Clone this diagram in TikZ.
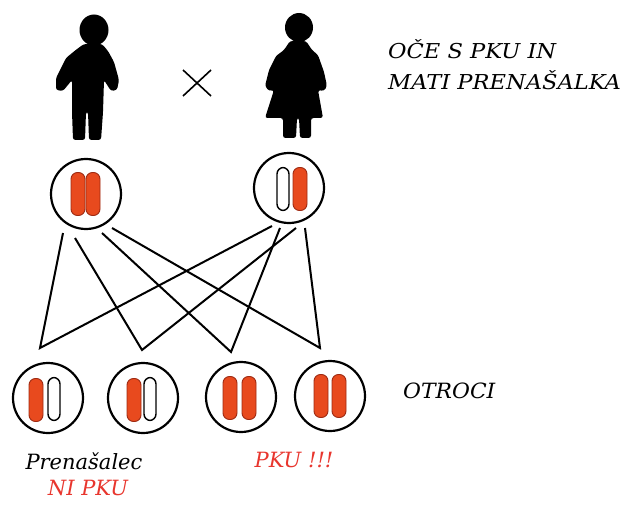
\documentclass[tikz,border=0pt]{standalone}
\usepackage{fontspec}
\setmainfont{DejaVu Serif}
\usetikzlibrary{calc}
\definecolor{chromred}{HTML}{E84A1E}
\definecolor{chromedge}{HTML}{9E2A12}
\definecolor{labelred}{HTML}{E8362E}
\begin{document}
\begin{tikzpicture}[x=1pt,y=-1pt,
  cell/.style={circle,draw,line width=2.2pt,minimum size=70pt,inner sep=0pt},
  chromfull/.style={rectangle,rounded corners=6.5pt,fill=chromred,draw=chromedge,line width=0.9pt,minimum width=14pt,minimum height=43pt,inner sep=0pt},
  chromempty/.style={rectangle,rounded corners=6.5pt,fill=white,draw=black,line width=1.4pt,minimum width=12pt,minimum height=43pt,inner sep=0pt},
  link/.style={line width=2pt,line join=miter},
  caption/.style={font=\itshape\fontsize{21}{21}\selectfont,anchor=west,inner sep=0pt},
  headline/.style={font=\itshape\fontsize{20.5}{20.5}\selectfont,anchor=west,inner sep=0pt},
  silhouette/.style={fill=black,rounded corners=2.5pt}]
\useasboundingbox (0,0) rectangle (623,505);

% father
\fill[black] (94,30) ellipse [x radius=14.5, y radius=15.5];
\fill[silhouette] (84,44) -- (102,44) -- (108,51) -- (114,62) -- (119,80) -- (117,90) -- (111,91)
  -- (104,80) -- (103,112) -- (101,140) -- (89,140) -- (88,112) -- (86,112) -- (85,140)
  -- (73,140) -- (72,112) -- (72,80) -- (63,91) -- (56,90) -- (56,78) -- (66,58) -- (77,49) -- cycle;

% cross sign
\draw[line width=1.6pt] (183,70) -- (211,96) (211,70) -- (183,96);

% mother
\fill[black] (299,27.5) ellipse [x radius=14, y radius=14.5];
\fill[silhouette] (290,41) -- (306,41) -- (312,50) -- (318,55) -- (324,72) -- (327,86) -- (324,91)
  -- (318,90) -- (323,118) -- (311,118) -- (311,138) -- (300,138) -- (299,118) -- (297,118)
  -- (296,138) -- (283,138) -- (283,118) -- (265,118) -- (274,90) -- (269,91) -- (265,86)
  -- (269,70) -- (276,56) -- (284,50) -- cycle;

% parent cells
\node[cell] (P1) at (86,194) {};
\node[cell] (P2) at (289,188) {};
\node[chromfull] (P1a) at ($(P1)+(-8,0)$) {};
\node[chromfull] (P1b) at ($(P1)+(7,0)$) {};
\node[chromempty] (P2a) at ($(P2)+(-6,1)$) {};
\node[chromfull] (P2b) at ($(P2)+(11,1)$) {};

% children cells
\node[cell] (C1) at (48,398) {};
\node[cell] (C2) at (143,398) {};
\node[cell] (C3) at (241,397) {};
\node[cell] (C4) at (330,396) {};
\node[chromfull] (C1a) at ($(C1)+(-12,2)$) {};
\node[chromempty] (C1b) at ($(C1)+(6,1)$) {};
\node[chromfull] (C2a) at ($(C2)+(-9,2)$) {};
\node[chromempty] (C2b) at ($(C2)+(7,1)$) {};
\node[chromfull] (C3a) at ($(C3)+(-11,1)$) {};
\node[chromfull] (C3b) at ($(C3)+(8,1)$) {};
\node[chromfull] (C4a) at ($(C4)+(-9,0)$) {};
\node[chromfull] (C4b) at ($(C4)+(9,0)$) {};

% meeting points above the children
\coordinate (A1) at (40,348);
\coordinate (A2) at (142,350);
\coordinate (A3) at (231,352);
\coordinate (A4) at (320,348);

% inheritance lines
\draw[link] ($(P1)+(-23,39)$) -- (A1) -- ($(P2)+(-17,38)$);
\draw[link] ($(P1)+(-11,44)$) -- (A2) -- ($(P2)+(7,40)$);
\draw[link] ($(P1)+(16,39)$) -- (A3) -- ($(P2)+(-9,40)$);
\draw[link] ($(P1)+(26,34)$) -- (A4) -- ($(P2)+(16,40)$);

% captions
\node[headline] (t1) at (388,49) {\scalebox{1.1}[1]{OČE S PKU IN}};
\node[headline] (t2) at (388,80) {\scalebox{1.1}[1]{MATI PRENAŠALKA}};
\node[caption] (t3) at (403,391) {\scalebox{1.04}[1]{OTROCI}};
\node[caption,anchor=center] (t4) at (84,461) {Prenašalec};
\node[caption,anchor=center,text=labelred] (t5) at (88,488) {NI PKU};
\node[caption,anchor=center,text=labelred] (t6) at (294,460) {PKU !!!};
\end{tikzpicture}
\end{document}
